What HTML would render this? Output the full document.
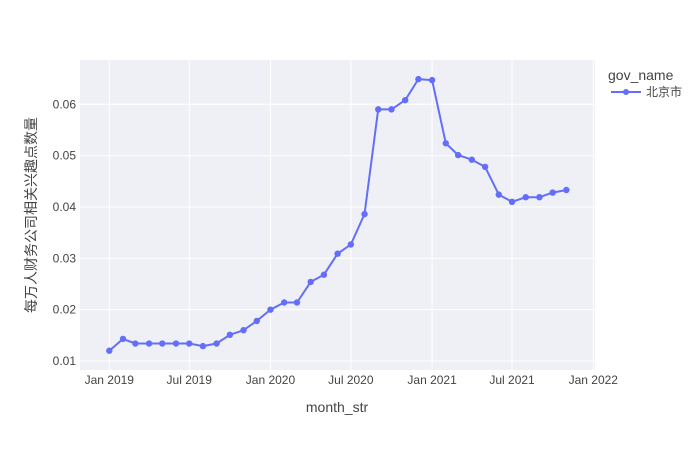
<!DOCTYPE html>
<html><head><meta charset="utf-8"><style>
body{margin:0;background:#fff;font-family:"Liberation Sans","Noto Sans CJK SC",sans-serif;}
svg text{font-family:"Liberation Sans","Noto Sans CJK SC",sans-serif;}
</style></head><body>
<svg id="c" width="700" height="450" xmlns="http://www.w3.org/2000/svg">
<rect x="0" y="0" width="700" height="450" fill="#fff"/>
<rect x="80" y="60" width="515" height="310" fill="#eff0f5"/>
<g id="grid"></g><g id="axes"></g><g id="series"></g>
<text x="337" y="412" font-size="14" fill="#444" text-anchor="middle">month_str</text>
<text transform="translate(36,215) rotate(-90)" font-size="14" fill="#444" text-anchor="middle">每万人财务公司相关兴趣点数量</text>
<text x="608" y="80" font-size="14" fill="#444">gov_name</text>
<g>
<line x1="611" y1="92" x2="641" y2="92" stroke="#636efa" stroke-width="2"/>
<circle cx="626" cy="92" r="3" fill="#636efa"/>
<text x="646" y="96" font-size="12" fill="#444">北京市</text>
</g>
</svg>
<script>
const months = ["2019-01","2019-02","2019-03","2019-04","2019-05","2019-06","2019-07","2019-08","2019-09","2019-10","2019-11","2019-12","2020-01","2020-02","2020-03","2020-04","2020-05","2020-06","2020-07","2020-08","2020-09","2020-10","2020-11","2020-12","2021-01","2021-02","2021-03","2021-04","2021-05","2021-06","2021-07","2021-08","2021-09","2021-10","2021-11"];
const values = [0.0120,0.0143,0.0134,0.0134,0.0134,0.0134,0.0134,0.0129,0.0134,0.0151,0.0160,0.0178,0.0200,0.0214,0.0214,0.0254,0.0268,0.0309,0.0327,0.0386,0.0590,0.0590,0.0608,0.0649,0.0647,0.0524,0.0501,0.0492,0.0478,0.0424,0.0410,0.0419,0.0419,0.0428,0.0433];
const yTicks = [0.01,0.02,0.03,0.04,0.05,0.06];
const xTickDates = ["2019-01","2019-07","2020-01","2020-07","2021-01","2021-07","2022-01"];
const xTickLabels = ["Jan 2019","Jul 2019","Jan 2020","Jul 2020","Jan 2021","Jul 2021","Jan 2022"];

const NS="http://www.w3.org/2000/svg";
const d=s=>{const [y,m]=s.split("-").map(Number);return Date.UTC(y,m-1,1)/864e5;};
const d0=d("2019-01"), d1=d("2022-01");
const X=s=>109.3+(d(s)-d0)/(d1-d0)*484;
const Y=v=>361-(v-0.01)*5135;
function mk(tag,attrs,parent){const e=document.createElementNS(NS,tag);for(const k in attrs)e.setAttribute(k,attrs[k]);parent.appendChild(e);return e;}
const grid=document.getElementById("grid"),axes=document.getElementById("axes"),ser=document.getElementById("series");
yTicks.forEach(v=>{
  const l=mk("line",{x1:80,x2:595,y1:Y(v),y2:Y(v),stroke:"#fff","stroke-width":1},grid);
  
  
  const t=mk("text",{x:76,y:Y(v)+4,"font-size":12,fill:"#444","text-anchor":"end"},axes);
  t.textContent=String(v);
  
  
});
xTickDates.forEach((s,i)=>{
  const l=mk("line",{x1:X(s),x2:X(s),y1:60,y2:370,stroke:"#fff","stroke-width":1},grid);
  
  
  const t=mk("text",{x:X(s),y:384,"font-size":12,fill:"#444","text-anchor":"middle"},axes);
  t.textContent=xTickLabels[i];
  
  
});
const pts=months.map((m,i)=>X(m).toFixed(1)+","+Y(values[i]).toFixed(1)).join(" ");
const line=mk("polyline",{points:pts,fill:"none",stroke:"#636efa","stroke-width":2,"stroke-linejoin":"round"},ser);


months.forEach((m,i)=>{
  const c=mk("circle",{cx:X(m),cy:Y(values[i]),r:3.2,fill:"#636efa"},ser);
  
  
});
</script>
</body></html>
